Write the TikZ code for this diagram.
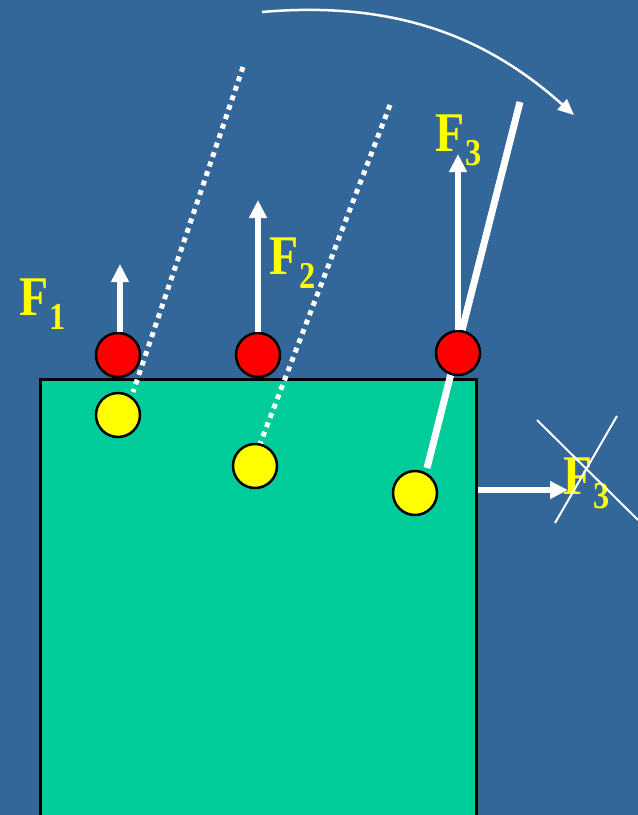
\documentclass[tikz,border=0pt]{standalone}
\usepackage{fontspec}
\setmainfont{Liberation Serif}
\usetikzlibrary{arrows.meta}
\definecolor{bg}{HTML}{336699}
\definecolor{box}{HTML}{00CC99}
\definecolor{yel}{HTML}{FFFF00}
\newcommand\Fsub[1]{F\kern1pt\raisebox{-14pt}{\fontsize{38}{38}\selectfont #1}}
\tikzset{
  fvec/.style={draw=white, line width=5.5pt, -{Triangle[width=17pt,length=18pt]}},
  ball/.style={circle, draw=black, line width=2.5pt, minimum size=44pt, inner sep=0pt},
  redball/.style={ball, fill=red},
  yelball/.style={ball, fill=yel},
  dotline/.style={draw=white, line width=5pt, dash pattern=on 5pt off 5pt},
  lab/.style={text=yel, font=\fontsize{56}{56}\selectfont\bfseries, anchor=base west, inner sep=0pt, xscale=0.85},
  thin/.style={draw=white, line width=2pt}
}
\begin{document}
\begin{tikzpicture}[x=1pt,y=-1pt]
\fill[bg] (0,0) rectangle (638,815);
\useasboundingbox (0,0) rectangle (638,815);
\node[draw=black, line width=2.5pt, fill=box, minimum width=436pt, minimum height=437pt, inner sep=0pt, anchor=north west] (blk) at (39,378) {};
\coordinate (d1a) at (243,67);
\coordinate (d1b) at (133,392);
\coordinate (d2a) at (390,105);
\coordinate (d2b) at (260,444);
\coordinate (rodtop) at (520,102);
\coordinate (rodbot) at (427,468);
\draw[dotline] (d1a) -- (d1b);
\draw[dotline] (d2a) -- (d2b);
\draw[white, line width=7pt] (rodtop) -- (rodbot);
\node[redball] (r1) at (118,355) {};
\node[redball] (r2) at (258,355) {};
\node[redball] (r3) at (458,353) {};
\node[yelball] (y1) at (118,415) {};
\node[yelball] (y2) at (255,466) {};
\node[yelball] (y3) at (415,493) {};
\coordinate (t1) at (120,264);
\coordinate (t2) at (258,200);
\coordinate (t3) at (458,154);
\draw[fvec] (r1.north -| t1) -- (t1);
\draw[fvec] (r2.north) -- (t2);
\draw[fvec] (r3.north) -- (t3);
\coordinate (t4) at (568,490);
\draw[fvec] (blk.east |- t4) -- (t4);
\node[lab] (f1) at (19,315) {\Fsub{1}};
\node[lab] (f2) at (269,274) {\Fsub{2}};
\node[lab] (f3) at (435,151) {\Fsub{3}};
\node[lab] (f4) at (563,494) {\Fsub{3}};
\coordinate (xa) at (537,420);
\coordinate (xb) at (638,520);
\coordinate (xc) at (617,416);
\coordinate (xd) at (555,523);
\draw[thin] (xa) -- (xb);
\draw[thin] (xc) -- (xd);
\coordinate (ca) at (262,12);
\coordinate (cb) at (574,115);
\draw[draw=white, line width=2.5pt, -{Triangle[width=14pt,length=16pt]}] (ca) .. controls (400,0) and (490,40) .. (cb);
\end{tikzpicture}
\end{document}
